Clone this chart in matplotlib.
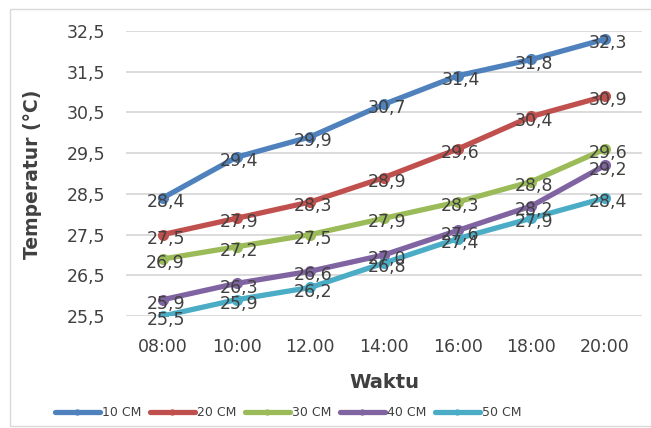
"""Temperature vs time at five soil depths, Excel-style line chart."""

import matplotlib

matplotlib.use("Agg")
import matplotlib.pyplot as plt  # noqa: E402
from matplotlib.patches import Rectangle  # noqa: E402

TIMES = ["08:00", "10:00", "12.00", "14:00", "16:00", "18:00", "20:00"]
SERIES = ["10 CM", "20 CM", "30 CM", "40 CM", "50 CM"]
T10 = [28.4, 29.4, 29.9, 30.7, 31.4, 31.8, 32.3]
T20 = [27.5, 27.9, 28.3, 28.9, 29.6, 30.4, 30.9]
T30 = [26.9, 27.2, 27.5, 27.9, 28.3, 28.8, 29.6]
T40 = [25.9, 26.3, 26.6, 27.0, 27.6, 28.2, 29.2]
T50 = [25.5, 25.9, 26.2, 26.8, 27.4, 27.9, 28.4]
YTICKS = [25.5, 26.5, 27.5, 28.5, 29.5, 30.5, 31.5, 32.5]

COLORS = ["#4F81BD", "#C0504D", "#9BBB59", "#8064A2", "#4BACC6"]
TEXT = "#404040"


def fmt(v):
    return f"{v:.1f}".replace(".", ",")


def main():
    plt.rcParams["font.family"] = ["DejaVu Sans"]
    fig = plt.figure(figsize=(6.51, 4.28), dpi=100)
    fig.patches.append(Rectangle((10 / 651, 0.005), 0.99, 1 - 9 / 428 - 0.005,
                                 transform=fig.transFigure, fill=False,
                                 edgecolor="#D9D9D9", lw=1.0))
    ax = fig.add_axes([0.1935, 0.2617, 0.7925, 0.6659])
    x = list(range(len(TIMES)))
    for name, ys, c in zip(SERIES, [T10, T20, T30, T40, T50], COLORS):
        ax.plot(x, ys, color=c, lw=3.8, marker="o", ms=7,
                solid_capstyle="round", label=name, zorder=3)
        for xi, yi in zip(x, ys):
            ax.annotate(fmt(yi), (xi, yi), xytext=(2, -3),
                        textcoords="offset points", ha="center", va="center",
                        fontsize=12.5, color=TEXT, zorder=4)
    ax.set_xlim(-0.5, len(TIMES) - 0.5)
    ax.set_ylim(25.5, 32.5)
    ax.set_xticks(x)
    ax.set_xticklabels(TIMES)
    ax.set_yticks(YTICKS)
    ax.set_yticklabels([fmt(v) for v in YTICKS])
    ax.tick_params(length=0, labelsize=12.5, labelcolor=TEXT)
    ax.tick_params(axis="y", pad=15)
    ax.tick_params(axis="x", pad=16)
    ax.grid(axis="y", color="#D9D9D9", lw=1.3)
    ax.set_axisbelow(True)
    for s in ax.spines.values():
        s.set_visible(False)

    fig.text(33 / 651, 1 - 174 / 428, "Temperatur (°C)", rotation=90,
             ha="center", va="center", fontsize=13.5, fontweight="bold", color=TEXT)
    fig.text(384 / 651, 1 - 382 / 428, "Waktu", ha="center", va="center",
             fontsize=14, fontweight="bold", color=TEXT)
    fig.legend(loc="center", bbox_to_anchor=(288 / 651, 1 - 413 / 428), ncol=5,
               frameon=False, fontsize=9, handlelength=3.6, handletextpad=0.15,
               columnspacing=0.7, labelcolor=TEXT, markerscale=0.5)
    fig.savefig("out.png", dpi=100)


if __name__ == "__main__":
    main()
